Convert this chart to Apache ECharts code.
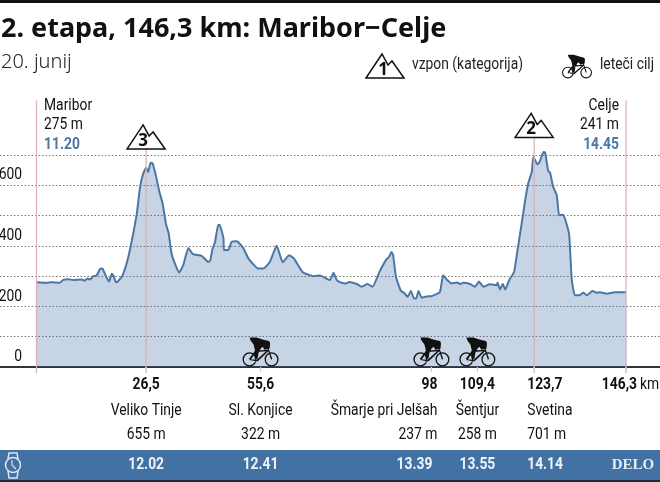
<!DOCTYPE html>
<html>
<head>
<meta charset="utf-8">
<script src="https://cdn.jsdelivr.net/npm/echarts@6/dist/echarts.min.js"></script>
<style>
html, body { margin: 0; padding: 0; background: #fff; }
#chart { width: 660px; height: 482px; }
</style>
</head>
<body>
<div id="chart"></div>
<script>
// profil etape: km
const profileKm = [0, 2.5, 3.8, 5.7, 6.7, 7.9, 9.1, 11.2, 12, 12.6, 13.3, 14.1, 14.9, 15.9, 16.4, 17.3, 18, 18.7, 19.2, 19.7, 20.3, 21.4, 22.8, 24, 24.9, 25.7, 26.5, 27.2, 27.7, 28.3, 28.8, 29.6, 30.5, 31.3, 32.1, 32.8, 33.5, 34.5, 35.4, 36.4, 37.7, 38.8, 41, 42.6, 43.1, 43.6, 44.3, 45.1, 45.5, 46.4, 46.5, 47.6, 48.4, 49.7, 51.3, 52.6, 55, 56.3, 57.9, 59.6, 61.1, 62.7, 63.9, 66, 68.7, 70.3, 72.8, 73.7, 74.5, 75.7, 76.8, 77.6, 79.5, 80.7, 82.1, 83.4, 85.1, 86.7, 87.5, 88.1, 88.5, 89.2, 90.4, 91.2, 92.1, 92.9, 93.7, 94.2, 94.8, 95.6, 97.2, 98, 100.1, 100.9, 101.9, 103, 104.3, 105.2, 105.9, 107.6, 108.8, 109.8, 110.9, 112.5, 114.2, 114.4, 115, 115.7, 116.3, 117.3, 118.5, 119.3, 120.4, 121.2, 122, 122.9, 123.3, 124.3, 124.9, 125.8, 126.2, 127, 127.4, 128.2, 129.1, 129.7, 130.7, 131.5, 132.2, 132.8, 133.6, 134.8, 135.7, 136.5, 138, 139, 139.8, 141.5, 143.5, 146.3];
// profil etape: nadmorska visina
const profileM = [280, 278, 280, 278, 288, 290, 287, 289, 285, 292, 289, 300, 302, 325, 324, 298, 282, 308, 298, 280, 284, 304, 364, 441, 507, 595, 639, 658, 644, 674, 672, 633, 578, 540, 474, 441, 375, 336, 312, 336, 393, 373, 367, 347, 351, 386, 413, 470, 468, 424, 386, 386, 413, 415, 393, 358, 325, 325, 347, 400, 346, 369, 358, 314, 300, 302, 287, 311, 287, 278, 276, 281, 274, 265, 274, 265, 314, 353, 364, 380, 369, 298, 252, 245, 232, 251, 226, 226, 251, 229, 234, 234, 248, 303, 287, 276, 279, 274, 278, 274, 265, 282, 265, 273, 270, 279, 256, 274, 256, 287, 314, 380, 474, 545, 606, 644, 694, 669, 679, 710, 708, 646, 644, 595, 567, 501, 503, 474, 435, 292, 237, 237, 246, 237, 251, 245, 247, 242, 247, 247];

const yTicks = [0, 200, 400, 600];

// kontrolne tocke pod osjo
const stopKm = [27.2, 55.6, 98, 109.4, 123.5, 146.3];
const stopKmLabels = ['26,5', '55,6', '98', '109,4', '123,7', '146,3'];
const stopNames = ['Veliko Tinje', 'Sl. Konjice', 'Šmarje pri Jelšah', 'Šentjur', 'Svetina', ''];
const stopHeights = ['655 m', '322 m', '237 m', '258 m', '701 m', ''];
const stopTimes = ['12.02', '12.41', '13.39', '13.55', '14.14', ''];
const stopAlign = ['center', 'center', 'right', 'center', 'left', 'right'];

// navpicne crte
const poleKm = [0, 27.2, 123.5, 146.3];
const poleTop = [880, 720, 758, 880];

// vzponi
const climbKm = [27.2, 123.5];
const climbBase = [720, 758];
const climbCat = ['3', '2'];

// leteci cilji
const sprintKm = [55.6, 98, 109.4];

const PINK = '#d8b3b8';
const BLUE = '#4a77a4';
const BAND = '#4272a3';

const bikePath = 'M0 21.5A7 7 0 1 1 14 21.5A7 7 0 1 1 0 21.5ZM1.3 21.5A5.7 5.7 0 1 0 12.7 21.5A5.7 5.7 0 1 0 1.3 21.5Z' +
    'M22 21.5A7 7 0 1 1 36 21.5A7 7 0 1 1 22 21.5ZM23.3 21.5A5.7 5.7 0 1 0 34.7 21.5A5.7 5.7 0 1 0 23.3 21.5Z' +
    'M6.5 21L12.5 13L14 13.5L8 22ZM12 13L26 12L26 13.2L15.5 23L14 22L23.5 13.5L12 14.5Z' +
    'M25 11L26.2 11L29.7 21L28.5 21.8ZM7 20.8L15 22.4L15 23.5L7 22Z' +
    'M7 0L14 0L20 2L24 3Q28 3 27.5 7L27 11L22 12L20 9L18 11L16 15L15 21L12 21L12.5 13L11 7L8 3Z';

// ozek tekst: ni ozke pisave, zato Roboto stisnemo po x
function narrow(text, x, y, align, fill, bold, size) {
    return {
        type: 'text',
        x: x,
        y: y,
        scaleX: 0.84,
        style: {
            text: text,
            x: 0,
            y: 0,
            font: (bold ? 'bold ' : '') + (size || 16.5) + 'px Roboto, sans-serif',
            fill: fill || '#111',
            align: align || 'left',
            verticalAlign: 'middle'
        }
    };
}

// gorski trikotnik okoli tocke (cx, by), by je spodnji rob
function mountain(cx, by) {
    return {
        type: 'polygon',
        shape: { points: [[cx - 19, by], [cx - 3, by - 24], [cx + 3, by - 13], [cx + 7, by - 17], [cx + 19, by]] },
        style: { fill: '#fff', stroke: '#111', lineWidth: 1.5 }
    };
}

const WATCH = '#dde6ef';

const chart = echarts.init(document.getElementById('chart'));

chart.setOption({
    animation: false,
    backgroundColor: '#fff',
    grid: { left: 0, right: 0, top: 155, bottom: 115 },
    xAxis: {
        type: 'value',
        min: -9.06,
        max: 154.72,
        splitLine: { show: false },
        axisTick: { show: false },
        axisLabel: { show: false },
        axisLine: { lineStyle: { color: '#333', width: 2 } }
    },
    yAxis: {
        type: 'value',
        min: 0,
        max: 700,
        interval: 100,
        axisLine: { show: false },
        axisTick: { show: false },
        axisLabel: { show: false },
        splitLine: { lineStyle: { color: '#777', type: [1.5, 2], width: 1 } }
    },
    graphic: [
        { type: 'rect', shape: { x: 0, y: 0, width: 660, height: 3 }, style: { fill: '#111' } },
        { type: 'rect', shape: { x: 0, y: 450, width: 660, height: 30 }, style: { fill: BAND } },
        { type: 'rect', shape: { x: 0, y: 480, width: 660, height: 2 }, style: { fill: '#1a2a3a' } },
        { type: 'text', style: { text: '2. etapa, 146,3 km: Maribor\u2212Celje', x: 1, y: 29, font: 'bold 27px "Noto Sans", sans-serif', fill: '#111', verticalAlign: 'middle' } },
        { type: 'text', style: { text: '20. junij', x: 1, y: 62, font: '300 20px "Noto Sans", sans-serif', fill: '#222', verticalAlign: 'middle' } },
        mountain(385, 78),
        { type: 'text', style: { text: '1', x: 383, y: 70, font: 'bold 17px "Noto Sans", sans-serif', fill: '#111', align: 'center', verticalAlign: 'middle' } },
        narrow('vzpon (kategorija)', 412, 65, 'left', '#222'),
        narrow('leteči cilj', 600, 65, 'left', '#222'),
        narrow('Maribor', 44, 106),
        narrow('275 m', 44, 125),
        narrow('11.20', 44, 145, 'left', BLUE, true),
        narrow('Celje', 619, 106, 'right'),
        narrow('241 m', 619, 125, 'right'),
        narrow('14.45', 619, 145, 'right', BLUE, true),
        narrow('km', 640, 385),
        { type: 'text', style: { text: 'DELO', x: 633, y: 465, font: 'bold 15px "Liberation Serif", serif', fill: '#e6edf4', align: 'center', verticalAlign: 'middle' } },
        { type: 'circle', shape: { cx: 13, cy: 465, r: 7.5 }, style: { fill: 'none', stroke: WATCH, lineWidth: 1.5 } },
        { type: 'polyline', shape: { points: [[8, 459], [9, 453], [17, 453], [18, 459]] }, style: { fill: 'none', stroke: WATCH, lineWidth: 1.5 } },
        { type: 'polyline', shape: { points: [[8, 471], [9, 478], [17, 478], [18, 471]] }, style: { fill: 'none', stroke: WATCH, lineWidth: 1.5 } },
        { type: 'polyline', shape: { points: [[12, 460], [12, 465], [16, 469]] }, style: { fill: 'none', stroke: WATCH, lineWidth: 1.2 } }
    ],
    series: [
        {
            type: 'line',
            data: profileKm.map((km, i) => [km, profileM[i]]),
            showSymbol: false,
            clip: false,
            smooth: 0.15,
            lineStyle: { color: BLUE, width: 2 },
            areaStyle: { color: '#476fa8', opacity: 0.3 },
            silent: true,
            z: 2
        },
        {
            // oznake visin ob levem robu
            type: 'custom',
            z: 3,
            silent: true,
            data: yTicks.map(v => [0, v]),
            renderItem: (params, api) => {
                const p = api.coord([0, api.value(1)]);
                return narrow(String(api.value(1)), 22, p[1] - 10, 'right');
            }
        },
        {
            // navpicne crte od osi navzgor
            type: 'custom',
            z: 3,
            silent: true,
            data: poleKm.map((km, i) => [km, poleTop[i]]),
            renderItem: (params, api) => {
                const top = api.coord([api.value(0), api.value(1)]);
                const bottom = api.coord([api.value(0), 0]);
                return {
                    type: 'line',
                    shape: { x1: top[0], y1: top[1], x2: bottom[0], y2: bottom[1] + 6 },
                    style: { stroke: PINK, lineWidth: 1.3 }
                };
            }
        },
        {
            // leteci cilji
            type: 'scatter',
            z: 4,
            silent: true,
            data: sprintKm.map(km => [km, 0]),
            symbol: 'path://' + bikePath,
            symbolSize: [36, 29],
            symbolOffset: [0, -15],
            itemStyle: { color: '#111', opacity: 1 },
            clip: false
        },
        {
            // legenda: kolesar
            type: 'custom',
            z: 4,
            silent: true,
            data: [[0, 0]],
            renderItem: () => ({
                type: 'path',
                shape: { pathData: bikePath, x: 562, y: 54, width: 30, height: 25 },
                style: { fill: '#111' }
            })
        },
        {
            // vzponi
            type: 'custom',
            z: 5,
            silent: true,
            data: climbKm.map((km, i) => [km, climbBase[i], i]),
            renderItem: (params, api) => {
                const p = api.coord([api.value(0), api.value(1)]);
                return {
                    type: 'group',
                    children: [
                        mountain(p[0], p[1]),
                        {
                            type: 'text',
                            style: {
                                text: climbCat[api.value(2)],
                                x: p[0] - 3,
                                y: p[1] - 8,
                                font: 'bold 17px "Noto Sans", sans-serif',
                                fill: '#111',
                                align: 'center',
                                verticalAlign: 'middle'
                            }
                        }
                    ]
                };
            }
        },
        {
            // besedila pod osjo
            type: 'custom',
            z: 6,
            silent: true,
            data: stopKm.map((km, i) => [km, 0, i]),
            renderItem: (params, api) => {
                const i = api.value(2);
                const p = api.coord([api.value(0), 0]);
                const align = stopAlign[i];
                const x = p[0] + (align === 'right' ? 6 : align === 'left' ? -7 : 0);
                const kmX = i === 5 ? p[0] + 11 : x;
                return {
                    type: 'group',
                    children: [
                        { type: 'line', shape: { x1: p[0], y1: p[1], x2: p[0], y2: p[1] + 5 }, style: { stroke: '#dcc9cc', lineWidth: 1.2 } },
                        narrow(stopKmLabels[i], kmX, 385, align, '#111', true),
                        narrow(stopNames[i], x, 411, align),
                        narrow(stopHeights[i], x, 435, align),
                        narrow(stopTimes[i], i === 2 ? x - 5 : x, 465, align, '#eef3f8', true)
                    ]
                };
            }
        }
    ]
});
</script>
</body>
</html>
